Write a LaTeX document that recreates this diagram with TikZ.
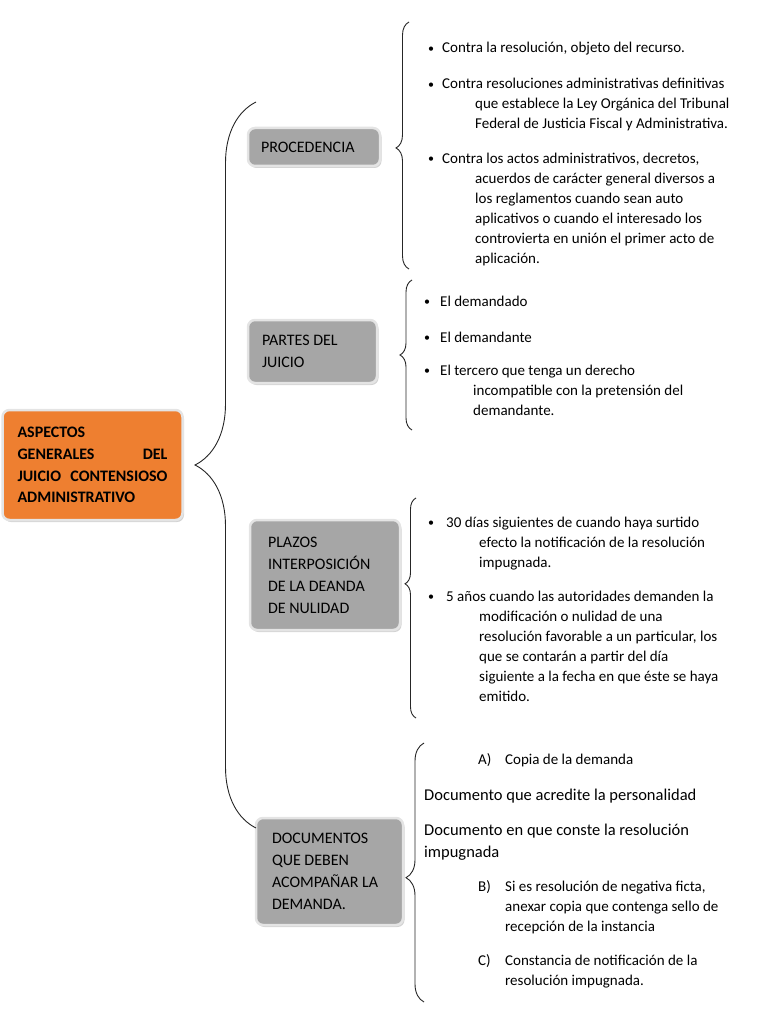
\documentclass[tikz,border=0pt]{standalone}
\usepackage{fontspec}
\setmainfont{Carlito}
\usetikzlibrary{shadows, decorations.pathreplacing}
\definecolor{CajaNaranja}{RGB}{238,127,48}
\definecolor{CajaGris}{RGB}{166,166,166}
\definecolor{Borde}{RGB}{228,228,228}
\newcommand{\vineta}[1]{\makebox[#1pt][l]{\raisebox{0.6pt}{\scalebox{0.8}{\textbullet}}}}
\newcommand{\inciso}[1]{\makebox[27pt][l]{#1}}
\newcommand{\sangria}[1]{\hspace*{#1pt}}

\begin{document}
\begin{tikzpicture}[x=1pt, y=-1pt,
    caja/.style={rectangle, rounded corners=7pt, fill=CajaGris, draw=Borde, line width=2.5pt,
      drop shadow={opacity=0.35, shadow xshift=1.5pt, shadow yshift=-2pt},
      align=flush left, font=\fontsize{16}{22}\selectfont, inner ysep=0pt},
    texto/.style={anchor=base west, align=left, inner sep=0pt, font=\fontsize{15}{20}\selectfont},
    grande/.style={texto, font=\fontsize{16.5}{22}\selectfont},
    llave/.style={decorate, decoration={brace, amplitude=#1}, line width=0.9pt, black!85}]
    \useasboundingbox (0,0) rectangle (768,1024);

    % tema central
    \node[caja, fill=CajaNaranja, minimum width=180pt, minimum height=110pt, text width=150pt,
      inner xsep=15pt, font=\fontsize{16}{21.7}\selectfont\bfseries] (tema) at (92.5,465)
      {ASPECTOS\\ \makebox[150pt][l]{GENERALES\hfill DEL}\\ \makebox[150pt][l]{JUICIO\hfill CONTENSIOSO}\\ ADMINISTRATIVO};

    % cajas grises
    \node[caja, minimum width=132pt, minimum height=38pt, text width=106pt, inner xsep=13pt] (procedencia) at (314,147) {PROCEDENCIA};
    \node[caja, minimum width=129pt, minimum height=63pt, text width=101pt, inner xsep=14pt] (partes) at (312.5,351.5) {PARTES DEL\\ JUICIO};
    \node[caja, minimum width=150pt, minimum height=110pt, text width=114pt, inner xsep=18pt] (plazos) at (325,575) {PLAZOS\\ INTERPOSICIÓN\\ DE LA DEANDA\\ DE NULIDAD};
    \node[caja, minimum width=147pt, minimum height=107pt, text width=115pt, inner xsep=16pt] (documentos) at (329.5,871.5) {DOCUMENTOS\\ QUE DEBEN\\ ACOMPAÑAR LA\\ DEMANDA.};

    % llaves
    \coordinate (gArr) at (256,102);
    \coordinate (gAba) at (256,828);
    \coordinate (pArr) at (409,22);
    \coordinate (pAba) at (409,269);
    \coordinate (qArr) at (412,280);
    \coordinate (qAba) at (412,430);
    \coordinate (rArr) at (416,498);
    \coordinate (rAba) at (416,718);
    \coordinate (dArr) at (424,743);
    \coordinate (dAba) at (424,1002);
    \draw[llave=61, decoration={aspect=0.5}] (gAba) -- (gArr);
    \draw[llave=13, decoration={aspect=0.49}] (pAba) -- (pArr);
    \draw[llave=12, decoration={aspect=0.5}] (qAba) -- (qArr);
    \draw[llave=11, decoration={aspect=0.61}] (rAba) -- (rArr);
    \draw[llave=18, decoration={aspect=0.48}] (dAba) -- (dArr);

    % procedencia (base = ultima linea)
    \node[texto] (p1) at (428,53) {\vineta{14}Contra la resolución, objeto del recurso.};
    \node[texto] (p2) at (428,129) {\vineta{14}Contra resoluciones administrativas definitivas\\
      \sangria{47}que establece la Ley Orgánica del Tribunal\\
      \sangria{47}Federal de Justicia Fiscal y Administrativa.};
    \node[texto] (p3) at (428,263) {\vineta{14}Contra los actos administrativos, decretos,\\
      \sangria{47}acuerdos de carácter general diversos a\\
      \sangria{47}los reglamentos cuando sean auto\\
      \sangria{47}aplicativos o cuando el interesado los\\
      \sangria{47}controvierta en unión el primer acto de\\
      \sangria{47}aplicación.};

    % partes del juicio
    \node[texto] (q1) at (424,306) {\vineta{16}El demandado};
    \node[texto] (q2) at (424,342) {\vineta{16}El demandante};
    \node[texto] (q3) at (424,415) {\vineta{16}El tercero que tenga un derecho\\
      \sangria{49}incompatible con la pretensión del\\
      \sangria{49}demandante.};

    % plazos
    \node[texto] (r1) at (428,567) {\vineta{18}30 días siguientes de cuando haya surtido\\
      \sangria{51}efecto la notificación de la resolución\\
      \sangria{51}impugnada.};
    \node[texto] (r2) at (428,701) {\vineta{18}5 años cuando las autoridades demanden la\\
      \sangria{51}modificación o nulidad de una\\
      \sangria{51}resolución favorable a un particular, los\\
      \sangria{51}que se contarán a partir del día\\
      \sangria{51}siguiente a la fecha en que éste se haya\\
      \sangria{51}emitido.};

    % documentos
    \node[texto] (d1) at (478,764) {\inciso{A)}Copia de la demanda};
    \node[grande] (d2) at (424,800) {Documento que acredite la personalidad};
    \node[grande] (d3) at (424,857) {Documento en que conste la resolución\\ impugnada};
    \node[texto] (d4) at (478,931) {\inciso{B)}Si es resolución de negativa ficta,\\
      \sangria{27}anexar copia que contenga sello de\\
      \sangria{27}recepción de la instancia};
    \node[texto] (d5) at (478,985) {\inciso{C)}Constancia de notificación de la\\
      \sangria{27}resolución impugnada.};
\end{tikzpicture}
\end{document}
